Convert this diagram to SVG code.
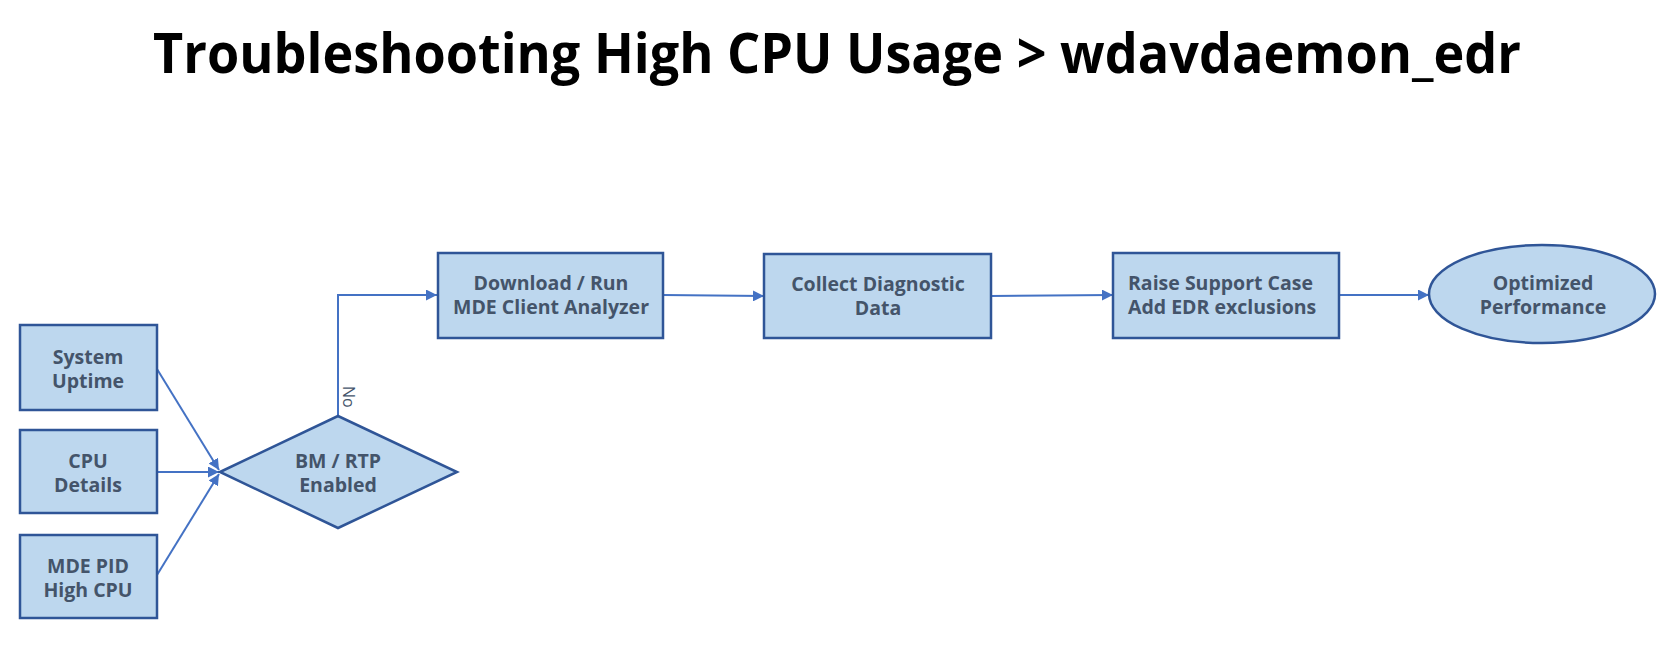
<svg xmlns="http://www.w3.org/2000/svg" width="1672" height="648" viewBox="0 0 1672 648">
  <style>
    .box { fill: #BDD7EE; stroke: #2F5597; stroke-width: 2.5; }
    .lbl { font-family: "Open Sans", "Liberation Sans", sans-serif; font-weight: 700; font-size: 19.5px; fill: #44546A; text-anchor: middle; }
    .lbl-left { text-anchor: start; }
    .conn { fill: none; stroke: #4472C4; stroke-width: 2; marker-end: url(#arrow); }
    .title { font-family: "Open Sans", "Liberation Sans", sans-serif; font-weight: 700; font-size: 55px; fill: #000000; text-anchor: middle; }
    .edge-lbl { font-family: "Open Sans", "Liberation Sans", sans-serif; font-size: 16px; fill: #44546A; }
  </style>
  <defs>
    <marker id="arrow" viewBox="0 0 10 10" refX="10" refY="5" markerWidth="11" markerHeight="11" markerUnits="userSpaceOnUse" orient="auto">
      <path d="M0,0 L10,5 L0,10 z" fill="#4472C4"/>
    </marker>
  </defs>
  <rect width="1672" height="648" fill="#FFFFFF"/>

  <text id="title" class="title" x="837" y="73" textLength="1368" lengthAdjust="spacingAndGlyphs">Troubleshooting High CPU Usage &gt; wdavdaemon_edr</text>

  <g id="connectors">
    <path class="conn" d="M157,369 L219,470"/>
    <path class="conn" d="M157,472 L219,472"/>
    <path class="conn" d="M157,575 L219,474"/>
    <path class="conn" d="M338,416 L338,295 L437,295"/>
    <path class="conn" d="M663,295 L764,296"/>
    <path class="conn" d="M991,296 L1113,295"/>
    <path class="conn" d="M1339,295 L1429,295"/>
    <text class="edge-lbl" x="343" y="386" transform="rotate(90 343 386)">No</text>
  </g>

  <g id="system-uptime">
    <rect class="box" x="20" y="325" width="137" height="85"/>
    <text class="lbl" x="88" y="363.5">System</text>
    <text class="lbl" x="88" y="387.5">Uptime</text>
  </g>
  <g id="cpu-details">
    <rect class="box" x="20" y="430" width="137" height="83"/>
    <text class="lbl" x="88" y="468">CPU</text>
    <text class="lbl" x="88" y="492">Details</text>
  </g>
  <g id="mde-pid">
    <rect class="box" x="20" y="535" width="137" height="83"/>
    <text class="lbl" x="88" y="572.5">MDE PID</text>
    <text class="lbl" x="88" y="596.5">High CPU</text>
  </g>
  <g id="bm-rtp">
    <polygon class="box" points="220,472 338,416 457,472 338,528"/>
    <text class="lbl" x="338" y="468">BM / RTP</text>
    <text class="lbl" x="338" y="492">Enabled</text>
  </g>
  <g id="download-run">
    <rect class="box" x="438" y="253" width="225" height="85"/>
    <text class="lbl" x="551" y="290">Download / Run</text>
    <text class="lbl" x="551" y="314">MDE Client Analyzer</text>
  </g>
  <g id="collect-data">
    <rect class="box" x="764" y="254" width="227" height="84"/>
    <text class="lbl" x="878" y="291">Collect Diagnostic</text>
    <text class="lbl" x="878" y="315">Data</text>
  </g>
  <g id="raise-case">
    <rect class="box" x="1113" y="253" width="226" height="85"/>
    <text class="lbl lbl-left" x="1128" y="289.5">Raise Support Case</text>
    <text class="lbl lbl-left" x="1128" y="313.5">Add EDR exclusions</text>
  </g>
  <g id="optimized">
    <ellipse class="box" cx="1542" cy="294" rx="113" ry="49"/>
    <text class="lbl" x="1543" y="289.5">Optimized</text>
    <text class="lbl" x="1543" y="313.5">Performance</text>
  </g>
</svg>
